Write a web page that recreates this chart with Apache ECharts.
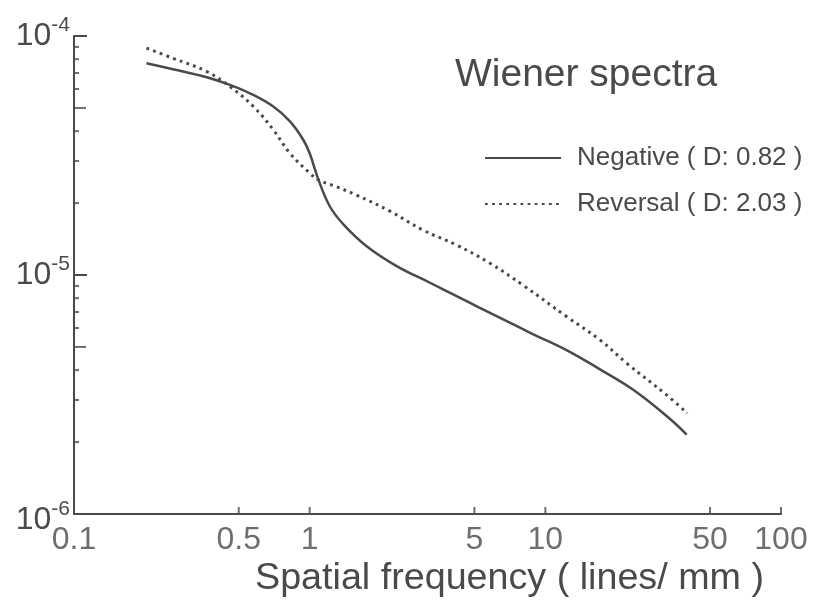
<!DOCTYPE html>
<html><head><meta charset="utf-8">
<script src="https://cdn.jsdelivr.net/npm/echarts@6/dist/echarts.min.js"></script>
<style>html,body{margin:0;padding:0;background:#fff}#c{width:815px;height:602px}</style>
</head><body><div id="c"></div>
<script>
// ---- data ----
const negFreq  = [0.203, 0.263, 0.366, 0.459, 0.558, 0.701, 0.825, 0.939, 1.0, 1.09, 1.22, 1.39, 1.745, 2.34, 3.24, 4.48, 6.21, 8.89, 12.3, 17.05, 23.6, 32.7, 39.8];
const negPower = [7.69e-5, 7.26e-5, 6.72e-5, 6.24e-5, 5.76e-5, 5.07e-5, 4.39e-5, 3.68e-5, 3.23e-5, 2.50e-5, 1.93e-5, 1.63e-5, 1.32e-5, 1.09e-5, 9.28e-6, 7.90e-6, 6.73e-6, 5.65e-6, 4.85e-6, 4.03e-6, 3.31e-6, 2.57e-6, 2.15e-6];
const revFreq  = [0.203, 0.263, 0.366, 0.459, 0.577, 0.701, 0.825, 1.0, 1.09, 1.30, 1.58, 2.19, 3.03, 4.20, 5.82, 8.06, 12.3, 17.05, 22.1, 32.7, 40.0];
const revPower = [8.89e-5, 8.07e-5, 7.10e-5, 6.14e-5, 5.07e-5, 4.05e-5, 3.23e-5, 2.67e-5, 2.50e-5, 2.34e-5, 2.16e-5, 1.85e-5, 1.54e-5, 1.335e-5, 1.12e-5, 9.05e-6, 6.7e-6, 5.35e-6, 4.28e-6, 3.15e-6, 2.64e-6];
const seriesNames = ['Negative ( D: 0.82 )', 'Reversal ( D: 2.03 )'];
const xTickLabels = [0.1, 0.5, 1, 5, 10, 50, 100];
const xTickMarks  = [0.5, 1, 5, 10, 50, 100];
const yMinorTicks = [2e-6, 3e-6, 4e-6, 6e-6, 7e-6, 8e-6, 9e-6, 2e-5, 3e-5, 4e-5, 6e-5, 7e-5, 8e-5, 9e-5];
const yHalfTicks  = [5e-6, 5e-5];
const xMin = 0.1, xMax = 100, yMin = 1e-6, yMax = 1e-4;
const titleText = 'Wiener spectra';
const xAxisTitle = 'Spatial frequency ( lines/ mm )';

// ---- chart ----
const FONT = '"Liberation Sans", Arial, sans-serif';
const INK = '#4a4a4a';
const zip = (a, b) => a.map((v, i) => [v, b[i]]);

const chart = echarts.init(document.getElementById('c'), null, {renderer: 'canvas'});
chart.setOption({
  animation: false,
  backgroundColor: '#fff',
  grid: {left: 74, right: 34, top: 36, bottom: 88, containLabel: false, outerBoundsMode: 'none'},
  graphic: [
    {type: 'text', left: 455, top: 56, style: {text: titleText, font: '39px ' + FONT, fill: INK}},
    {type: 'text', left: 255, top: 560, style: {text: xAxisTitle, font: '37.7px ' + FONT, fill: INK}}
  ],
  legend: {
    orient: 'vertical', left: 484, top: 145, padding: 0, itemWidth: 76, itemHeight: 14, itemGap: 20,
    selectedMode: false, data: seriesNames,
    itemStyle: {opacity: 0},
    textStyle: {fontSize: 26, fontFamily: FONT, color: INK, padding: [0, 0, 0, 11]}
  },
  xAxis: {
    type: 'log', logBase: 10, min: xMin, max: xMax,
    axisLine: {show: true, lineStyle: {color: INK, width: 2}},
    axisTick: {show: false}, axisLabel: {show: false}, splitLine: {show: false}, minorTick: {show: false}
  },
  yAxis: {
    type: 'log', logBase: 10, min: yMin, max: yMax,
    axisLine: {show: true, lineStyle: {color: INK, width: 2}},
    axisTick: {show: true, inside: true, length: 13, lineStyle: {color: INK, width: 2}},
    splitLine: {show: false},
    axisLabel: {
      margin: 4,
      formatter: function (v) {
        const e = Math.round(Math.log10(v));
        return e === -6 ? '{b6|10}{s6|' + e + '}' : '{b|10}{s|' + e + '}';
      },
      rich: {
        b: {fontSize: 32, fontFamily: FONT, color: INK},
        s: {fontSize: 21, fontFamily: FONT, color: INK, padding: [0, 0, 22, 0]},
        b6: {fontSize: 32, fontFamily: FONT, color: INK, padding: [12, 0, 0, 0]},
        s6: {fontSize: 21, fontFamily: FONT, color: INK, padding: [0, 0, 10, 0]}
      }
    }
  },
  series: [
    {
      name: seriesNames[0], type: 'line', data: zip(negFreq, negPower),
      symbol: 'none', showSymbol: false, smooth: 0.4, silent: true,
      lineStyle: {color: INK, width: 2.5},
      itemStyle: {color: INK}
    },
    {
      name: seriesNames[1], type: 'line', data: zip(revFreq, revPower),
      symbol: 'none', showSymbol: false, smooth: 0.4, silent: true,
      lineStyle: {color: INK, width: 3, type: [2.8, 4.3], cap: 'butt'},
      itemStyle: {color: INK}
    },
    {
      name: 'xticks', type: 'scatter', data: xTickMarks.map(v => [v, yMin]),
      symbol: 'rect', symbolSize: [2, 7], symbolOffset: [0, -3.5], clip: false, silent: true, z: 3,
      itemStyle: {color: INK}
    },
    {
      name: 'xlabels', type: 'scatter', data: xTickLabels.map(v => [v, yMin]),
      symbol: 'rect', symbolSize: 1, clip: false, silent: true,
      itemStyle: {color: 'rgba(0,0,0,0)'},
      label: {show: true, position: 'bottom', distance: 10, fontSize: 32, fontFamily: FONT, color: INK,
        formatter: p => String(p.value[0])}
    },
    {
      name: 'yminor', type: 'scatter', data: yMinorTicks.map(v => [xMin, v]),
      symbol: 'rect', symbolSize: [5, 2], symbolOffset: [2.5, 0], clip: false, silent: true, z: 3,
      itemStyle: {color: INK}
    },
    {
      name: 'yhalf', type: 'scatter', data: yHalfTicks.map(v => [xMin, v]),
      symbol: 'rect', symbolSize: [12, 2], symbolOffset: [6, 0], clip: false, silent: true, z: 3,
      itemStyle: {color: INK}
    }
  ]
});
</script>
</body></html>
